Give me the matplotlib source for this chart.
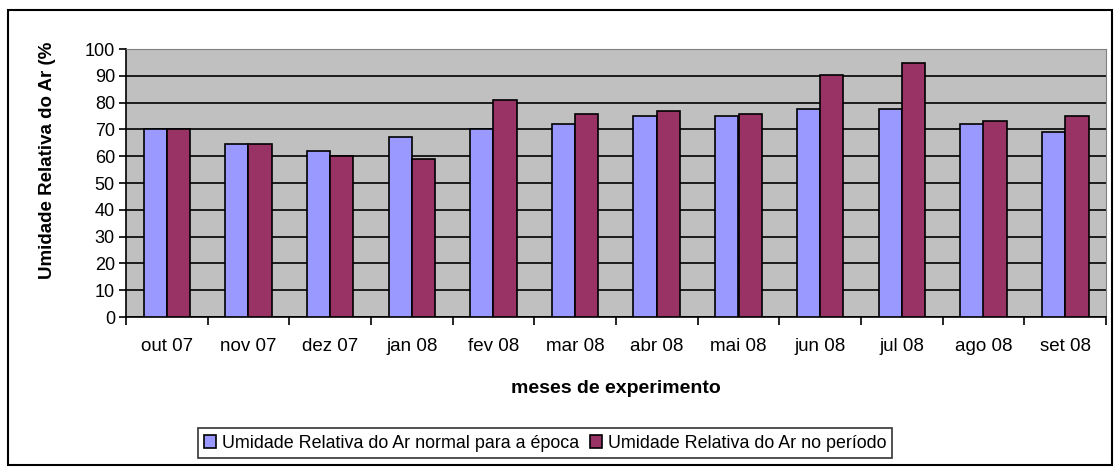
import numpy as np
import matplotlib.pyplot as plt
from matplotlib.patches import Rectangle

plt.rcParams["font.family"] = ["Liberation Sans", "DejaVu Sans"]

# data
meses = ["out 07", "nov 07", "dez 07", "jan 08", "fev 08", "mar 08",
         "abr 08", "mai 08", "jun 08", "jul 08", "ago 08", "set 08"]
normal_epoca = [70, 64.5, 62, 67.3, 70, 72, 75, 75, 77.6, 77.6, 72, 69.2]
no_periodo = [70, 64.5, 60, 58.8, 81, 75.7, 77, 75.7, 90.2, 94.8, 73.2, 75.1]

fig = plt.figure(figsize=(11.2, 4.69), dpi=100)
ax = fig.add_axes([126 / 1120, 1 - 317 / 469, 980 / 1120, 268 / 469])

x = np.arange(len(meses))
w = 1 / 3.5
ax.bar(x - w / 2, normal_epoca, w, color="#9999FF", edgecolor="black",
       linewidth=1.2, label="Umidade Relativa do Ar normal para a época", zorder=3)
ax.bar(x + w / 2, no_periodo, w, color="#993366", edgecolor="black",
       linewidth=1.2, label="Umidade Relativa do Ar no período", zorder=3)

ax.set_facecolor("#C0C0C0")
ax.set_xlim(-0.5, len(meses) - 0.5)
ax.set_ylim(0, 100)
ax.set_yticks(range(0, 101, 10))
ax.yaxis.grid(True, color="black", linewidth=1.2, zorder=1)
ax.set_axisbelow(True)

# ticks on category boundaries, labels centred
ax.set_xticks(np.arange(-0.5, len(meses), 1))
ax.set_xticklabels([])
ax.set_xticks(x, minor=True)
ax.set_xticklabels(meses, minor=True, fontsize=13.5)
ax.tick_params(axis="x", which="minor", length=0, pad=15)
ax.tick_params(axis="x", which="major", length=6, width=1.2, direction="out")
ax.tick_params(axis="y", length=5, width=1.2, labelsize=13, pad=3)

for s in ["top", "right"]:
    ax.spines[s].set_color("#808080")
for s in ["left", "bottom"]:
    ax.spines[s].set_linewidth(1.2)

ax.set_xlabel("meses de experimento", fontsize=14, fontweight="bold", labelpad=18)
fig.text(48 / 1120, 1 - 160 / 469, "Umidade Relativa do Ar (%", rotation=90,
         fontsize=13.5, fontweight="bold", ha="center", va="center")

leg = fig.legend(loc="center", bbox_to_anchor=(545 / 1120, 1 - 443 / 469), ncol=2,
                 fontsize=12.9, frameon=True, fancybox=False, edgecolor="black",
                 handlelength=0.7, handleheight=0.7, handletextpad=0.3,
                 columnspacing=0.6, borderpad=0.35)
leg.get_frame().set_linewidth(1.2)

# outer chart border
fig.patches.append(Rectangle((8 / 1120, 1 - 465 / 469), 1104 / 1120, 455 / 469,
                             transform=fig.transFigure, fill=False,
                             edgecolor="black", linewidth=1.5))

fig.savefig("out.png", dpi=100)
